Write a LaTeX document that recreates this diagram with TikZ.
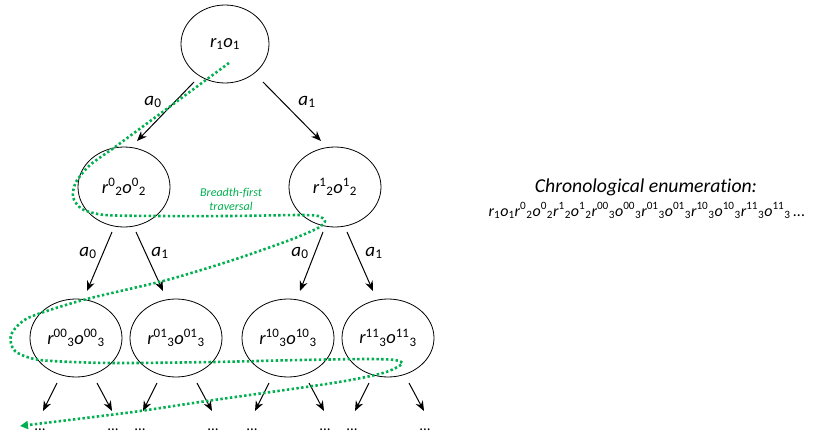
\documentclass[tikz,border=0pt]{standalone}
\usepackage{fontspec}
\setmainfont{Carlito}[Ligatures=NoCommon]
\usetikzlibrary{shapes.geometric,arrows.meta}
\definecolor{trav}{RGB}{0,176,80}
\newcommand{\mySup}[1]{\textsuperscript{\upshape #1}}
\newcommand{\mySub}[1]{\textsubscript{\upshape #1}}
\newcommand{\RO}[2]{r\mySup{#1}\mySub{#2}o\mySup{#1}\mySub{#2}}
\begin{document}
\begin{tikzpicture}[x=1pt,y=-1pt,
  st/.style={ellipse,draw,line width=0.8pt,inner sep=0pt,font=\fontsize{18.5}{20}\selectfont\itshape},
  arr/.style={-{Stealth[length=10pt,width=8pt]},line width=1pt},
  lab/.style={font=\fontsize{19}{20}\selectfont\itshape,inner sep=0pt},
  dts/.style={font=\fontsize{15}{16}\selectfont,inner sep=0pt},
  travpath/.style={trav,line width=2.6pt,dash pattern=on 2.4pt off 2.4pt}]
\useasboundingbox (0,0) rectangle (827,436);
% nodes
\node[st,minimum width=88pt,minimum height=78pt] (root) at (225,44) {r\mySub{1}o\mySub{1}};
\node[st,minimum width=92pt,minimum height=80pt] (n0) at (124,187) {\RO{0}{2}};
\node[st,minimum width=92pt,minimum height=80pt] (n1) at (335,187) {\RO{1}{2}};
\node[st,minimum width=92pt,minimum height=78pt] (n00) at (76,338) {\RO{00}{3}};
\node[st,minimum width=92pt,minimum height=78pt] (n01) at (176,338) {\RO{01}{3}};
\node[st,minimum width=92pt,minimum height=78pt] (n10) at (288,338) {\RO{10}{3}};
\node[st,minimum width=92pt,minimum height=78pt] (n11) at (388,338) {\RO{11}{3}};
% arrow end points
\coordinate (r0s) at (194,82);  \coordinate (r0e) at (137,141);
\coordinate (r1s) at (263,82);  \coordinate (r1e) at (321,141);
\coordinate (a00s) at (112,232); \coordinate (a00e) at (87,291);
\coordinate (a01s) at (136,232); \coordinate (a01e) at (163,291);
\coordinate (a10s) at (323,232); \coordinate (a10e) at (300,291);
\coordinate (a11s) at (347,232); \coordinate (a11e) at (373,291);
\draw[arr] (r0s) -- (r0e);
\draw[arr] (r1s) -- (r1e);
\draw[arr] (a00s) -- (a00e);
\draw[arr] (a01s) -- (a01e);
\draw[arr] (a10s) -- (a10e);
\draw[arr] (a11s) -- (a11e);
\node[lab] (la0) at (153,102) {a\mySub{0}};
\node[lab] (la1) at (307,102) {a\mySub{1}};
\node[lab] (lb0) at (88,253) {a\mySub{0}};
\node[lab] (lb1) at (160,253) {a\mySub{1}};
\node[lab] (lc0) at (300,253) {a\mySub{0}};
\node[lab] (lc1) at (374,253) {a\mySub{1}};
% level 3 outgoing arrows
\foreach \n/\c in {n00/76,n01/176,n10/288,n11/388}{
  \coordinate (\n ls) at (\c-19,383); \coordinate (\n le) at (\c-33,411);
  \coordinate (\n rs) at (\c+21,383); \coordinate (\n re) at (\c+36,411);
  \draw[arr] (\n ls) -- (\n le);
  \draw[arr] (\n rs) -- (\n re);
}
% traversal path
\draw[travpath,-{Triangle[length=8pt,width=8pt]}] plot[smooth,tension=0.45] coordinates {
 (229,63) (172,105) (115,147) (90,165) (76,182) (73,197) (82,209) (105,215)
 (160,216) (230,216) (300,215) (318,216) (325,221) (318,228) (290,240)
 (233,260) (167,280) (83,300) (28,318) (11,335) (15,351) (40,360)
 (110,363) (213,362) (300,360) (367,359) (395,360) (402,364) (383,373)
 (333,383) (200,402) (133,412) (20,426)};
% continuation dots
\foreach \n/\c in {n00/76,n01/176,n10/288,n11/388}{
  \node[dts] (\n ld) at (\c-36,429.5) {...};
  \node[dts] (\n rd) at (\c+37,429.5) {...};
}
\node[trav,font=\fontsize{12}{14}\selectfont\itshape,align=center,inner sep=0pt] (bft) at (231,199) {Breadth-first\\traversal};
% enumeration text
\node[font=\fontsize{19.7}{21}\selectfont\itshape,inner sep=0pt,anchor=base] (ch) at (646,192) {Chronological enumeration:};
\node[font=\fontsize{16}{20}\selectfont\itshape,inner sep=0pt,anchor=base] (en) at (647,216) {r\mySub{1}o\mySub{1}\RO{0}{2}\RO{1}{2}\RO{00}{3}\RO{01}{3}\RO{10}{3}\RO{11}{3}\,...};
\end{tikzpicture}
\end{document}
